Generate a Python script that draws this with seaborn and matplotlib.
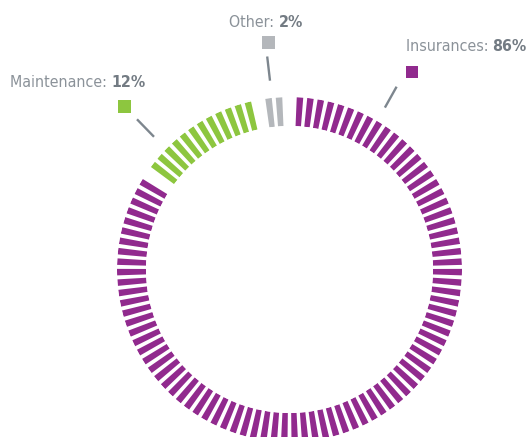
import numpy as np
import pandas as pd
import matplotlib
matplotlib.use("Agg")
import matplotlib.pyplot as plt
from matplotlib.patches import Rectangle
from matplotlib import font_manager
from matplotlib.font_manager import FontProperties
import seaborn as sns

# ---- data ----
categories = ["Insurances", "Maintenance", "Other"]
percentages = [86, 12, 2]
colors = ["#912a8e", "#8dc63f", "#b4b7bb"]
label_texts = ["Insurances: ", "Maintenance: ", "Other: "]
value_texts = ["86%", "12%", "2%"]

sns.set_theme(style="white")
plt.rcParams['font.family'] = ['Roboto', 'DejaVu Sans']

# look for a narrow / condensed face among installed fonts
files = [f.fname for f in font_manager.fontManager.ttflist]
def find(keys, bold):
    for k in keys:
        for fn in files:
            base = fn.split("/")[-1].lower()
            if k in base and (("bold" in base) == bold) and "italic" not in base and "oblique" not in base:
                return fn
    return None
keys = ["liberationsansnarrow", "dejavusanscondensed", "opensans_condensed",
        "opensanscondensed", "opensans-condensed", "robotocondensed", "roboto-condensed",
        "notosans-condensed", "notosanscondensed"]
reg_f = find(keys, False)
bold_f = find(keys, True)
if reg_f:
    fp_reg = FontProperties(fname=reg_f)
    fp_bold = FontProperties(fname=bold_f) if bold_f else FontProperties(fname=reg_f, weight="bold")
else:
    fp_reg = FontProperties(family=["Roboto", "DejaVu Sans"])
    fp_bold = FontProperties(family=["Roboto", "DejaVu Sans"], weight="bold")

W, H = 527, 437
fig = plt.figure(figsize=(W / 100, H / 100), dpi=100)

# one tick per percent, one empty slot between categories
rows = []
slot = 0
for cat, pct in zip(categories, percentages):
    for _ in range(pct):
        rows.append({"slot": slot, "category": cat})
        slot += 1
    slot += 1
n_slots = slot
step = 2 * np.pi / n_slots
df = pd.DataFrame(rows)
df["theta"] = (df["slot"] + 1) * step
df["length"] = 1.0

cx, cy, R = 289.5, 269.5, 172.5
ax = fig.add_axes([(cx - R) / W, (H - cy - R) / H, 2 * R / W, 2 * R / H],
                  projection="polar")
ax.set_theta_zero_location("N")
ax.set_theta_direction(-1)
sns.barplot(data=df, x="theta", y="length", hue="category",
            palette=dict(zip(categories, colors)), native_scale=True,
            width=0.62, dodge=False, legend=False, ax=ax, saturation=1,
            errorbar=None, linewidth=0)
ax.set_xlim(0, 2 * np.pi)
ax.set_ylim(0, 1)
ax.set_rorigin(-143.5 / 29.0)
ax.axis("off")

# ---- labels, markers, leader lines ----
ov = fig.add_axes([0, 0, 1, 1])
ov.set_xlim(0, W)
ov.set_ylim(H, 0)
ov.axis("off")

text_pos = [(405.5, 50.7), (10, 86.7), (229, 26.7)]
square_pos = [(405.5, 65.5), (118, 99.8), (262.4, 36.3)]
lines = [((396.6, 86.7), (384.9, 107.6)),
         ((137, 119.3), (154, 136.8)),
         ((267.2, 56.5), (270, 80.7))]
target_w = [119.0, 136.0, 74.0]

fs = 14
renderer = fig.canvas.get_renderer()
# measure width of the Maintenance label to pick a font size
ta = ov.text(0, 0, label_texts[1], fontproperties=fp_reg, fontsize=fs)
tb = ov.text(0, 0, value_texts[1], fontproperties=fp_bold, fontsize=fs)
wsum = ta.get_window_extent(renderer).width + tb.get_window_extent(renderer).width
ta.remove(); tb.remove()
fs = min(15.0, fs * 136.0 / wsum)

for i in range(3):
    x, y = text_pos[i]
    t1 = ov.text(x, y, label_texts[i], fontproperties=fp_reg, fontsize=fs,
                 color="#8b9299", ha="left", va="baseline")
    ov.annotate(value_texts[i], xy=(1, 0), xycoords=t1, fontproperties=fp_bold,
                fontsize=fs, color="#737b83", ha="left", va="bottom")
    sx, sy = square_pos[i]
    ov.add_patch(Rectangle((sx, sy), 12.8, 12.8, color=colors[i], lw=0))
    (x0, y0), (x1, y1) = lines[i]
    ov.plot([x0, x1], [y0, y1], color="#7d868e", lw=1.7, solid_capstyle="butt")

fig.savefig("out.png", dpi=100)
